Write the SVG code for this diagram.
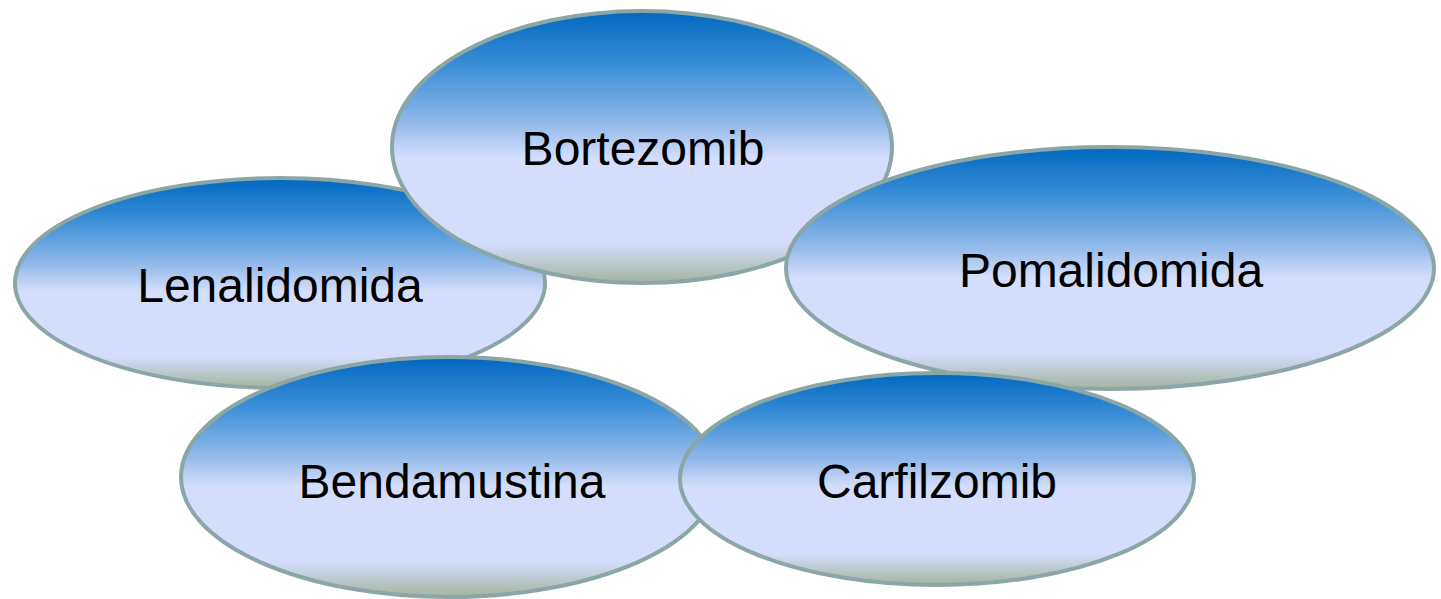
<svg xmlns="http://www.w3.org/2000/svg" width="1441" height="599" viewBox="0 0 1441 599">
<defs>
<linearGradient id="g" x1="0" y1="0" x2="0" y2="1">
<stop offset="0" stop-color="#0068C0"/>
<stop offset="0.2" stop-color="#3A8ED6"/>
<stop offset="0.4" stop-color="#8CB6E8"/>
<stop offset="0.54" stop-color="#D4DEFC"/>
<stop offset="0.85" stop-color="#D4DEFC"/>
<stop offset="1" stop-color="#A4B4A0"/>
</linearGradient>
</defs>
<style>
.n ellipse{fill:url(#g);stroke:#8BA6A6;stroke-width:4}
.n text{font-family:"Liberation Sans",Arial,sans-serif;font-size:48px;fill:#000;text-anchor:middle}
</style>
<g id="connectors"/>
<g id="lenalidomida" class="n"><ellipse cx="280" cy="283" rx="265" ry="105"/><text x="280" y="302">Lenalidomida</text></g>
<g id="bortezomib" class="n"><ellipse cx="642" cy="147" rx="250" ry="136"/><text x="643" y="165">Bortezomib</text></g>
<g id="pomalidomida" class="n"><ellipse cx="1110" cy="268" rx="324" ry="121"/><text x="1111" y="287">Pomalidomida</text></g>
<g id="bendamustina" class="n"><ellipse cx="449" cy="477" rx="268" ry="120"/><text x="452" y="498">Bendamustina</text></g>
<g id="carfilzomib" class="n"><ellipse cx="937" cy="479" rx="257" ry="106"/><text x="937" y="498">Carfilzomib</text></g>
</svg>
